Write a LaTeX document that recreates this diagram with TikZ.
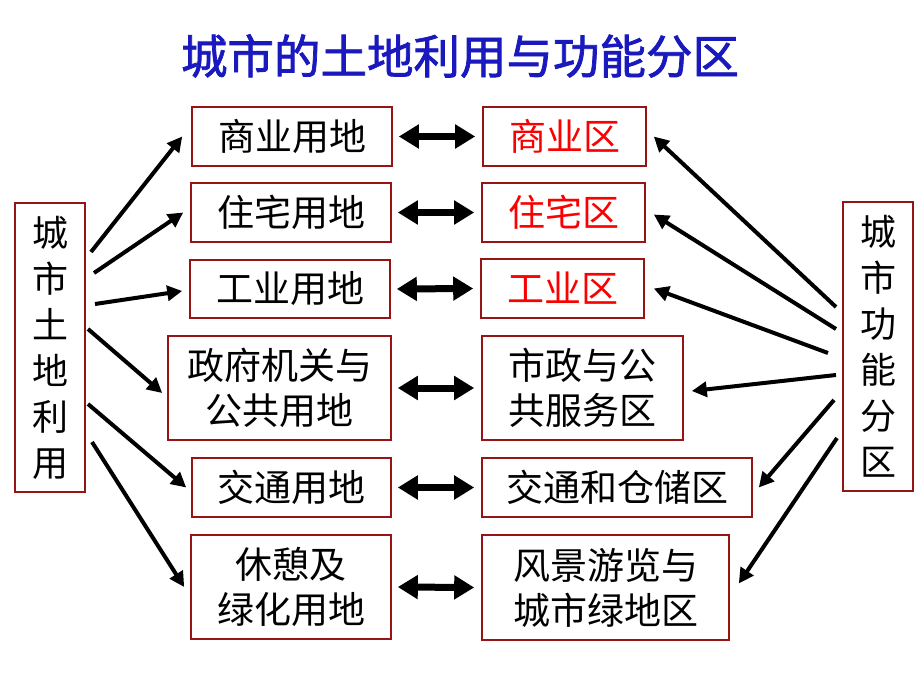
\documentclass[tikz,border=0pt]{standalone}
\usepackage{fontspec}
\usepackage{xcolor}
\usetikzlibrary{arrows.meta}
\newfontfamily\cjk{Noto Sans CJK SC}
\newfontfamily\cjktitle[FakeBold=1.6]{Noto Sans CJK SC}
\definecolor{boxred}{RGB}{150,20,20}
\definecolor{titleblue}{RGB}{25,25,190}
\definecolor{zonered}{RGB}{250,0,0}
\tikzset{
  box/.style={draw=boxred, line width=1.6pt, inner sep=0pt, align=center,
    font=\cjk\fontsize{37}{45}\selectfont},
  sidebox/.style={box, minimum width=70pt, minimum height=289pt,
    font=\cjk\fontsize{36}{46}\selectfont},
  arr/.style={line width=4pt, -{Triangle[length=15pt,width=15pt]}},
  dblarr/.style={line width=7pt, {Triangle[length=20pt,width=23pt]}-{Triangle[length=20pt,width=23pt]}}
}

\begin{document}
\begin{tikzpicture}[x=1pt, y=-1pt]
\useasboundingbox (0, 0) rectangle (920, 690);
\node [font=\cjktitle\fontsize{46.5}{50}\selectfont, text=titleblue] (title) at (460, 56) {城市的土地利用与功能分区};

% land use
\node [sidebox] (land) at (50, 347.5) {城\\市\\土\\地\\利\\用};
\node [box, minimum width=200pt, minimum height=59pt] (lu1) at (292, 136.5) {商业用地};
\node [box, minimum width=200pt, minimum height=59pt] (lu2) at (291, 212.5) {住宅用地};
\node [box, minimum width=200pt, minimum height=58pt] (lu3) at (290, 289) {工业用地};
\node [box, minimum width=223pt, minimum height=104pt] (lu4) at (279.5, 388) {政府机关与\\公共用地};
\node [box, minimum width=199pt, minimum height=59pt] (lu5) at (291.5, 487.5) {交通用地};
\node [box, minimum width=200pt, minimum height=104pt] (lu6) at (291, 587) {休憩及\\绿化用地};

% functional zones
\node [sidebox] (func) at (878, 346.5) {城\\市\\功\\能\\分\\区};
\node [box, text=zonered, minimum width=163pt, minimum height=59pt] (fz1) at (564.5, 136.5) {商业区};
\node [box, text=zonered, minimum width=163pt, minimum height=59pt] (fz2) at (563.5, 212.5) {住宅区};
\node [box, text=zonered, minimum width=163pt, minimum height=59pt] (fz3) at (562.5, 288.5) {工业区};
\node [box, minimum width=201pt, minimum height=104pt] (fz4) at (582.5, 388) {市政与公\\共服务区};
\node [box, minimum width=270pt, minimum height=59pt] (fz5) at (617, 487.5) {交通和仓储区};
\node [box, minimum width=247pt, minimum height=105pt] (fz6) at (605.5, 587.5) {风景游览与\\城市绿地区};

% arrow starts
\coordinate (l1) at (91, 252);
\coordinate (l2) at (94, 273);
\coordinate (l3) at (95, 304);
\coordinate (l4) at (88, 329);
\coordinate (l5) at (88, 404);
\coordinate (l6) at (92, 442);
\coordinate (r1) at (836, 307);
\coordinate (r2) at (836, 329);
\coordinate (r3) at (828, 353);
\coordinate (r4) at (836, 375);
\coordinate (r5) at (834, 400);
\coordinate (r6) at (837, 438);

\draw [arr] (l1) -- ([xshift=-9pt]lu1.west);
\draw [arr] (l2) -- ([xshift=-7pt]lu2.west);
\draw [arr] (l3) -- ([xshift=-7pt, yshift=-2pt]lu3.west);
\draw [arr] (l4) -- ([xshift=-5pt, yshift=-5pt]lu4.west);
\draw [arr] (l5) -- ([xshift=-5pt]lu5.west);
\draw [arr] (l6) -- ([xshift=-6pt]lu6.west);

\draw [arr] (r1) -- ([xshift=7pt]fz1.east);
\draw [arr] (r2) -- ([xshift=8pt, yshift=-2pt]fz2.east);
\draw [arr] (r3) -- ([xshift=9pt]fz3.east);
\draw [arr] (r4) -- ([xshift=8pt, yshift=-3pt]fz4.east);
\draw [arr] (r5) -- ([xshift=6pt]fz5.east);
\draw [arr] (r6) -- ([xshift=9pt, yshift=4pt]fz6.east);

\foreach \i in {1,...,6}
  \draw [dblarr] ([xshift=6pt]lu\i.east) -- ([xshift=-7pt]fz\i.west);
\end{tikzpicture}
\end{document}
